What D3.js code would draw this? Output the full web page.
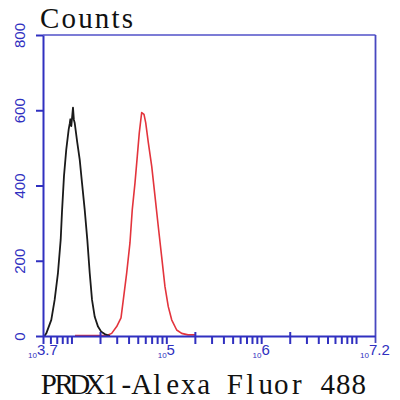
<!DOCTYPE html>
<html><head><meta charset="utf-8">
<script src="https://cdn.jsdelivr.net/npm/d3@7"></script>
<style>html,body{margin:0;padding:0;background:#fff;}svg{display:block;}</style>
</head><body>
<svg id="c" width="400" height="400"></svg>
<script>
// ---- data ----
const blackX = [5200, 5430, 6130, 6650, 7210, 7700, 7940, 8340, 8820, 9350, 9600, 9730, 9960, 10380, 10600, 10810, 11520, 12220, 12920, 13790, 14690, 15570, 16480, 17590, 19050, 20640, 22410, 25500];
const blackY = [0, 7, 43, 96, 168, 256, 328, 425, 496, 549, 565, 576, 558, 607, 575, 567, 514, 469, 407, 336, 256, 168, 96, 51, 25, 11, 5, 0];
const redX = [10900, 24000, 26550, 29980, 33290, 35200, 38230, 41400, 43760, 46760, 49450, 51880, 55000, 58180, 60630, 64610, 70190, 76010, 82280, 89300, 96800, 104900, 113900, 128600, 145200, 169300, 200600];
const redY = [1, 2, 7, 25, 48, 96, 168, 248, 336, 407, 478, 540, 594, 589, 567, 514, 451, 371, 291, 211, 131, 78, 43, 16, 7, 3, 3];
const yTicks = [0, 200, 400, 600, 800];
const xMinorTicks = [5012, 6000, 7000, 8000, 9000, 10000, 20000, 30000, 40000, 50000, 60000, 70000, 80000, 90000, 100000, 200000, 300000, 400000, 500000, 600000, 700000, 800000, 900000, 1000000, 2000000, 3000000, 4000000, 5000000, 6000000, 7000000, 8000000, 9000000, 10000000];
const xLongTicks = [20000, 200000, 2000000];
const xLabelValues = [5012, 100000, 1000000, 15849000];
const xLabelExps = ["3.7", "5", "6", "7.2"];
const yTitle = "Counts";
const xTitle = "PRDX1-Alexa Fluor 488";

// ---- chart ----
const svg = d3.select("#c");
const blue = "#3030c0";
const x = d3.scaleLog().domain([5012, 15849000]).range([43, 375]);
const y = d3.scaleLinear().domain([0, 800]).range([336, 35]);

// frame top/right
svg.append("line").attr("x1", 43).attr("x2", 375.5).attr("y1", 35).attr("y2", 35)
  .attr("stroke", "#5050c8").attr("stroke-width", 1.6);
svg.append("line").attr("x1", 375.5).attr("x2", 375.5).attr("y1", 35).attr("y2", 343)
  .attr("stroke", "#4848c0").attr("stroke-width", 1.8);

// curves
const line = d3.line().x(d => x(d[0])).y(d => y(d[1]));
svg.append("path").datum(redX.map((v, i) => [v, redY[i]]))
  .attr("d", line).attr("fill", "none").attr("stroke", "#e3343c").attr("stroke-width", 1.6)
  .attr("stroke-linejoin", "round");
svg.append("path").datum(blackX.map((v, i) => [v, blackY[i]]))
  .attr("d", line).attr("fill", "none").attr("stroke", "#1a1a1a").attr("stroke-width", 1.8)
  .attr("stroke-linejoin", "round");

// x axis
const gx = svg.append("g").attr("transform", "translate(0,336)")
  .call(d3.axisBottom(x).tickValues(xMinorTicks).tickSize(8).tickSizeOuter(0).tickFormat(""));
gx.select(".domain").attr("stroke", blue).attr("stroke-width", 2);
gx.selectAll(".tick line").attr("stroke", blue).attr("stroke-width", 2);
gx.selectAll(".tick").filter(d => xLongTicks.includes(d)).select("line").attr("y1", -4);

const lab = svg.append("g");
xLabelValues.forEach((v, i) => {
  const t = lab.append("text").attr("x", x(v)).attr("y", 356).attr("text-anchor", "middle")
    .attr("font-family", "Liberation Sans, Arial, sans-serif").attr("fill", blue);
  t.append("tspan").attr("font-size", 8).attr("dy", 2).text("10");
  t.append("tspan").attr("font-size", 15).attr("dy", -3).text(xLabelExps[i]);
});

// y axis
const gy = svg.append("g").attr("transform", "translate(43,0)")
  .call(d3.axisLeft(y).tickValues(yTicks).tickSize(7).tickSizeOuter(0));
gy.select(".domain").attr("stroke", blue).attr("stroke-width", 2);
gy.selectAll(".tick line").attr("stroke", blue).attr("stroke-width", 2);
gy.selectAll(".tick text").attr("transform", "rotate(-90)").attr("x", 0).attr("y", -18)
  .attr("dy", 0).attr("text-anchor", "middle").attr("fill", blue)
  .attr("font-size", 15).attr("font-family", "Liberation Sans, Arial, sans-serif");

// titles
svg.append("text").attr("x", 40).attr("y", 28).attr("font-family", "Liberation Serif, serif")
  .attr("font-size", 29).attr("fill", "#111").attr("textLength", 93)
  .attr("lengthAdjust", "spacing").text(yTitle);

function monoText(str, x0, yb, adv, size) {
  const t = svg.append("text").attr("y", yb).attr("font-family", "Liberation Serif, serif")
    .attr("font-size", size).attr("fill", "#111").attr("text-anchor", "middle");
  t.attr("x", str.split("").map((c, i) => x0 + adv * i + adv / 2).join(" "));
  t.text(str);
}
monoText(xTitle, 41, 394, 15.5, 29);
</script>
</body></html>
